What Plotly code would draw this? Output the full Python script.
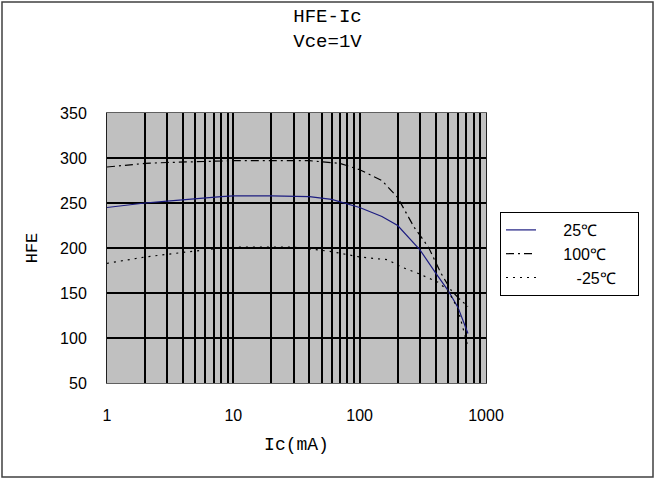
import plotly.graph_objects as go

# Data
ic_25 = [1, 2, 3, 5, 8, 10, 20, 40, 60, 100, 150, 200, 300, 400, 500, 600, 720]
hfe_25 = [245, 250, 252, 255, 257, 258, 258, 257, 254, 245, 235, 225, 198, 172, 153, 134, 105]

ic_100 = [1, 2, 3, 5, 10, 20, 40, 70, 100, 150, 200, 270, 350, 440, 530, 620, 720]
hfe_100 = [290, 294, 295, 296, 297, 297, 297, 294, 287, 275, 256, 223, 201, 172, 153, 143, 135]

ic_m25 = [1, 2, 3, 5, 8, 10, 20, 30, 40, 60, 100, 166, 213, 288, 417, 500, 600, 720]
hfe_m25 = [183, 190, 193, 197, 200, 201, 201, 201, 199, 196, 190, 187, 179, 172, 162, 153, 132, 90]

series_names = ["25℃", "100℃", "-25℃"]
x_ticks = [1, 10, 100, 1000]
y_ticks = [50, 100, 150, 200, 250, 300, 350]

# legend label padding (leading, trailing) to mimic the original legend layout
pads = [(5, 8), (5, 5), (8, 2)]
legend_labels = ["\u00a0" * a + n + "\u00a0" * b for n, (a, b) in zip(series_names, pads)]

fig = go.Figure()
fig.add_trace(go.Scatter(x=ic_25, y=hfe_25, mode="lines", name=legend_labels[0],
                         line=dict(color="#1c1c80", width=1.2)))
fig.add_trace(go.Scatter(x=ic_100, y=hfe_100, mode="lines", name=legend_labels[1],
                         line=dict(color="black", width=1.2, dash="8px,4px,2px,4px")))
fig.add_trace(go.Scatter(x=ic_m25, y=hfe_m25, mode="lines", name=legend_labels[2],
                         line=dict(color="black", width=1.2, dash="2px,5px")))

L, R, T, B = 107, 169, 113, 96
W, H = 655, 479
pw, ph = W - L - R, H - T - B

tick_font = dict(family="Liberation Sans, Arial, sans-serif", size=16, color="black")
mono = "Liberation Mono"

fig.update_layout(
    width=W, height=H,
    margin=dict(l=L, r=R, t=T, b=B),
    paper_bgcolor="white",
    plot_bgcolor="#c0c0c0",
    title=dict(text="HFE-Ic<br>Vce=1V", x=0.5, xref="container", xanchor="center",
               y=1 - 22 / H, yref="container", yanchor="top",
               font=dict(family=mono, size=19, color="black")),
    xaxis=dict(type="log", range=[0, 3], tickvals=x_ticks, ticktext=[str(v) for v in x_ticks],
               showgrid=True, gridcolor="black", gridwidth=1.5,
               minor=dict(dtick="D1", showgrid=True, gridcolor="black", gridwidth=1.5, ticks=""),
               ticks="", tickfont=tick_font, ticklabelstandoff=18,
               showline=True, linecolor="#606060", linewidth=1, mirror=True,
               title=dict(text="Ic(mA)", font=dict(family=mono, size=18, color="black"), standoff=14),
               zeroline=False),
    yaxis=dict(range=[50, 350], tickvals=y_ticks, showgrid=True, gridcolor="black", gridwidth=1.5,
               ticks="", tickfont=tick_font, ticklabelstandoff=16,
               showline=True, linecolor="#202020", linewidth=1, mirror=True,
               title=dict(text="HFE", font=dict(family=mono, size=17, color="black"), standoff=18),
               zeroline=False),
    legend=dict(x=(500 - L) / pw, y=(H - B - 212) / ph, xanchor="left", yanchor="top",
                bgcolor="white", bordercolor="black", borderwidth=1,
                font=dict(family="Liberation Sans, Arial, sans-serif", size=16, color="black"),
                tracegroupgap=0, itemwidth=30),
    showlegend=True,
    shapes=[dict(type="rect", xref="paper", yref="paper",
                 x0=(2 - L) / pw, x1=(W - 2 - L) / pw,
                 y0=(H - B - (H - 2)) / ph, y1=(H - B - 2) / ph,
                 line=dict(color="#404040", width=1.5), fillcolor="rgba(0,0,0,0)", layer="below")],
)

fig.write_html("out.html", config={"displayModeBar": False},
               post_script="document.body.style.margin='0px';")
